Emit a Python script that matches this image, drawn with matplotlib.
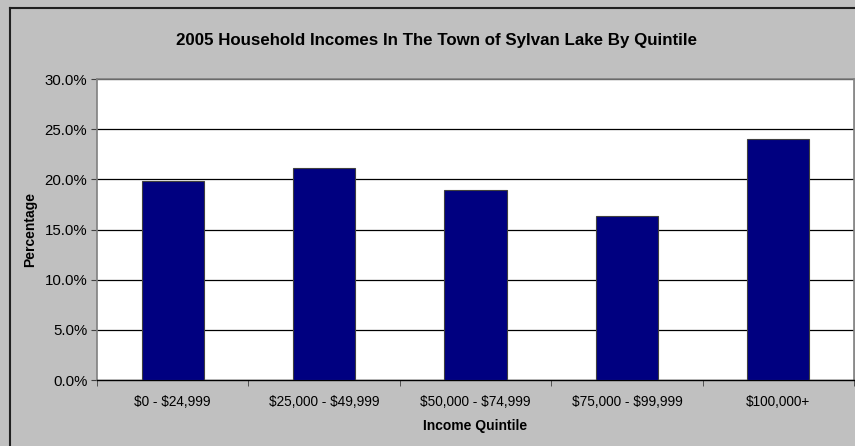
import matplotlib
matplotlib.use('Agg')
import matplotlib.pyplot as plt
from matplotlib.lines import Line2D
from matplotlib.ticker import FuncFormatter, MultipleLocator, FixedLocator

categories = ['$0 - $24,999', '$25,000 - $49,999', '$50,000 - $74,999',
              '$75,000 - $99,999', '$100,000+']
percentages = [19.8, 21.1, 18.9, 16.3, 24.0]

plt.rcParams['font.family'] = ['Liberation Sans', 'DejaVu Sans']

W, H = 855, 446
fig = plt.figure(figsize=(W / 100, H / 100), dpi=100)
fig.patch.set_facecolor('#C0C0C0')

# plot area in pixels: left 97, right 854, top 79, bottom 380
ax = fig.add_axes([97 / W, 1 - 380 / H, (854 - 97) / W, (380 - 79) / H])
ax.set_facecolor('white')

x = list(range(len(categories)))
ax.bar(x, percentages, width=0.41, color='#000080', edgecolor='#404040',
       linewidth=0.8, zorder=3)

ax.set_xlim(-0.5, len(categories) - 0.5)
ax.set_ylim(0, 30)
ax.yaxis.set_major_locator(MultipleLocator(5))
ax.yaxis.set_major_formatter(FuncFormatter(lambda v, p: '%.1f%%' % v))
ax.yaxis.grid(True, color='black', linewidth=0.9, zorder=1)

ax.set_xticks(x)
ax.set_xticklabels([c.replace('$', r'\$') for c in categories], fontsize=9.8)
ax.xaxis.set_minor_locator(FixedLocator([i + 0.5 for i in range(-1, len(categories))]))
ax.tick_params(axis='x', which='major', length=0, pad=11)
ax.tick_params(axis='x', which='minor', length=4, direction='out', color='#404040')
ax.tick_params(axis='y', length=4, direction='out', labelsize=10.8, pad=3, color='#404040')

for s in ['left', 'top', 'right']:
    ax.spines[s].set_color('#808080')
    ax.spines[s].set_linewidth(1.2)
ax.spines['bottom'].set_color('black')
ax.spines['bottom'].set_linewidth(1.0)

ax.set_xlabel('Income Quintile', fontsize=10, fontweight='bold', labelpad=7)
ax.set_ylabel('Percentage', fontsize=10, fontweight='bold', labelpad=5)

fig.text(436 / W, 1 - 40 / H, '2005 Household Incomes In The Town of Sylvan Lake By Quintile',
         ha='center', va='center', fontsize=12.2, fontweight='bold')

# outer chart border (left and top edges visible)
fig.add_artist(Line2D([9.5 / W, 9.5 / W], [0, 1 - 7.5 / H], color='#202020', linewidth=1.5,
                      transform=fig.transFigure))
fig.add_artist(Line2D([9.5 / W, 1], [1 - 7.5 / H, 1 - 7.5 / H], color='#202020', linewidth=1.5,
                      transform=fig.transFigure))

fig.savefig('out.png', dpi=100, facecolor=fig.get_facecolor())
